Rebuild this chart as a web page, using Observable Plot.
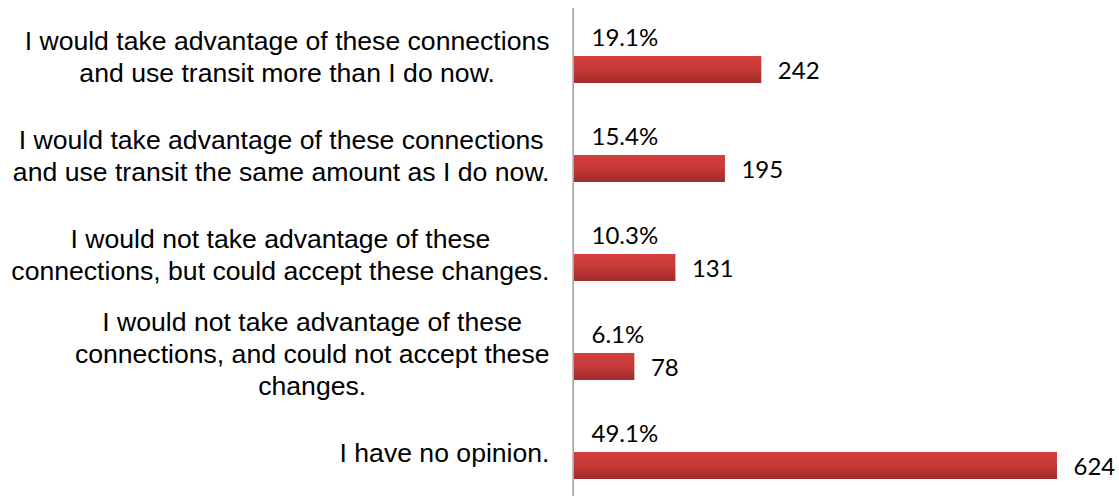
<!DOCTYPE html>
<html>
<head>
<meta charset="utf-8">
<script src="https://cdn.jsdelivr.net/npm/d3@7"></script>
<script src="https://cdn.jsdelivr.net/npm/@observablehq/plot@0.6"></script>
<style>
  html, body { margin: 0; padding: 0; background: #fff; }
  #chart svg { display: block; }
</style>
</head>
<body>
<div id="chart"></div>
<script>
const categories = [
  "I would take advantage of these connections\nand use transit more than I do now.",
  "I would take advantage of these connections\nand use transit the same amount as I do now.",
  "I would not take advantage of these\nconnections, but could accept these changes.",
  "I would not take advantage of these\nconnections, and could not accept these\nchanges.",
  "I have no opinion."
];
const counts = [242, 195, 131, 78, 624];
const percents = ["19.1%", "15.4%", "10.3%", "6.1%", "49.1%"];

const rows = categories.map((c, i) => ({label: c, count: counts[i], pct: percents[i]}));

const labelFont = "26.6px 'Liberation Sans', Arial, sans-serif";
const ctx = document.createElement("canvas").getContext("2d");
ctx.font = labelFont;
const blockWidth = categories.map(c => Math.max(...c.split("\n").map(l => ctx.measureText(l).width)));

const defs = () => {
  const d = d3.create("svg:defs");
  const g = d.append("linearGradient").attr("id", "barGrad").attr("x1", 0).attr("y1", 0).attr("x2", 0).attr("y2", 1);
  g.append("stop").attr("offset", "0%").attr("stop-color", "#d33f3d");
  g.append("stop").attr("offset", "45%").attr("stop-color", "#c93a38");
  g.append("stop").attr("offset", "100%").attr("stop-color", "#9f2c2c");
  const f = d.append("filter").attr("id", "barShadow").attr("x", "-5%").attr("y", "-30%").attr("width", "115%").attr("height", "180%");
  f.append("feDropShadow").attr("dx", 2).attr("dy", 3).attr("stdDeviation", 2).attr("flood-color", "#000").attr("flood-opacity", 0.3);
  return d.node();
};

const chart = Plot.plot({
  width: 1119,
  height: 496,
  marginLeft: 574,
  marginRight: 62,
  marginTop: 8,
  marginBottom: 0,
  style: {background: "#fff", overflow: "visible"},
  x: {domain: [0, 624], axis: null},
  y: {domain: categories, axis: null, paddingInner: 0.727, paddingOuter: 0.328, align: 0.738},
  marks: [
    defs,
    Plot.ruleX([0], {stroke: "#a0a0a0", strokeWidth: 1.5, dx: -1.3}),
    Plot.barX(rows, {x: "count", y: "label", fill: "url(#barGrad)", filter: null, style: "filter:url(#barShadow)"}),
    Plot.text(rows, {x: 0, y: "label", text: "pct", dx: 17, dy: -32, textAnchor: "start",
      fontFamily: "Lato, 'Open Sans', sans-serif", fontSize: 24, fill: "#000"}),
    Plot.text(rows, {x: "count", y: "label", text: d => String(d.count), dx: 16, dy: 1, textAnchor: "start",
      fontFamily: "Lato, 'Open Sans', sans-serif", fontSize: 24, fill: "#000"}),
    ...rows.map((r, i) => Plot.text([r], {x: 0, y: "label", text: "label", dx: -25 - blockWidth[i] / 2, dy: -14,
      textAnchor: "middle", lineHeight: 1.2, fontFamily: "'Liberation Sans', Arial, sans-serif", fontSize: 26.6, fill: "#000"}))
  ]
});
chart.querySelectorAll("rect").forEach(r => {});
document.getElementById("chart").appendChild(chart);
</script>
</body>
</html>
